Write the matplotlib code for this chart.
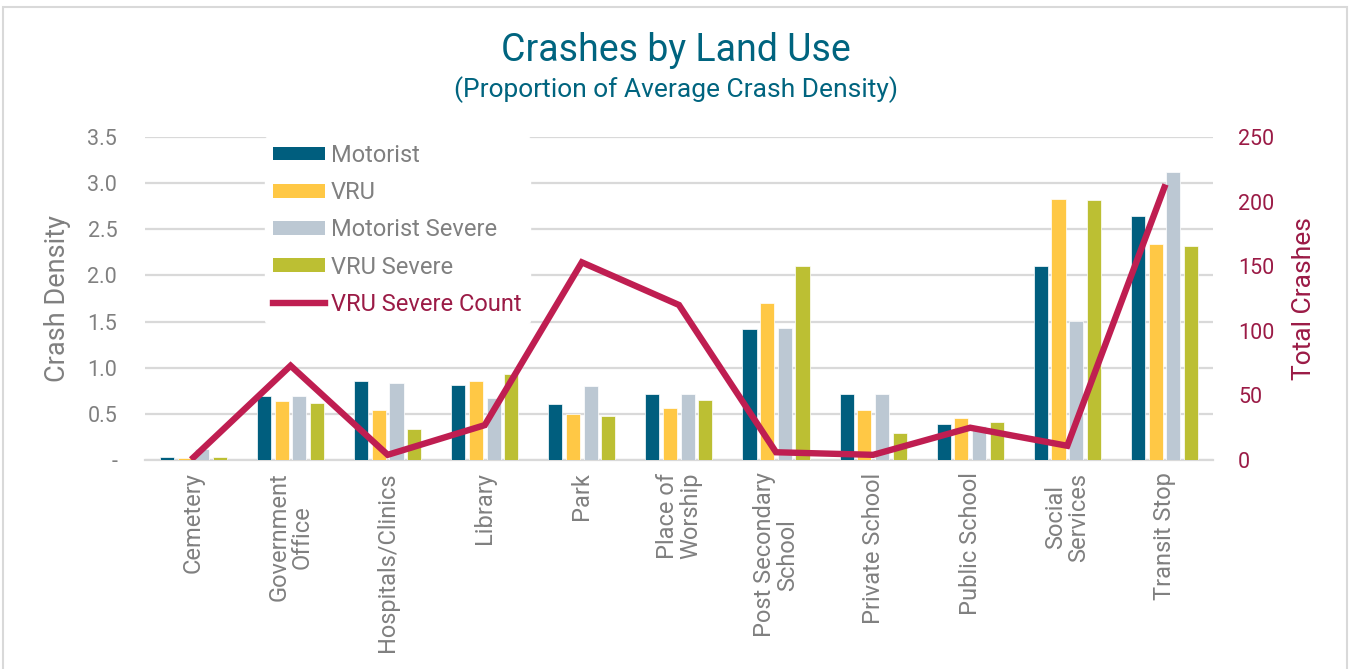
import numpy as np
import matplotlib
matplotlib.use("Agg")
import matplotlib.pyplot as plt
from matplotlib.patches import Rectangle
from matplotlib.lines import Line2D
from matplotlib.ticker import FuncFormatter

plt.rcParams["font.family"] = ["Roboto", "DejaVu Sans"]

# data
categories = [
    "Cemetery", "Government\nOffice", "Hospitals/Clinics", "Library", "Park",
    "Place of\nWorship", "Post Secondary\nSchool", "Private School",
    "Public School", "Social\nServices", "Transit Stop",
]
motorist = [0.03, 0.69, 0.86, 0.81, 0.61, 0.71, 1.42, 0.72, 0.39, 2.10, 2.64]
vru = [0.02, 0.64, 0.54, 0.86, 0.50, 0.56, 1.70, 0.54, 0.46, 2.83, 2.34]
motorist_severe = [0.12, 0.69, 0.83, 0.67, 0.80, 0.72, 1.43, 0.72, 0.37, 1.51, 3.12]
vru_severe = [0.03, 0.62, 0.34, 0.93, 0.48, 0.65, 2.10, 0.29, 0.41, 2.82, 2.32]
vru_severe_count = [2, 73, 4, 27, 153, 120, 6, 4, 25, 11, 211]

series = [
    ("Motorist", motorist, "#005E7E"),
    ("VRU", vru, "#FFC845"),
    ("Motorist Severe", motorist_severe, "#BCC8D3"),
    ("VRU Severe", vru_severe, "#BCBF33"),
]
line_color = "#BF1E51"
dark_red = "#9B1B46"
grey = "#808080"

fig = plt.figure(figsize=(13.51, 6.69), dpi=100)
ax = fig.add_axes([0.1073, 0.3124, 0.7905, 0.4828])
ax2 = ax.twinx()

x = np.arange(len(categories))
pitch = 0.182
width = 0.145
for i, (name, vals, color) in enumerate(series):
    ax.bar(x + (i - 1.5) * pitch, vals, width, color=color,
           edgecolor="white", linewidth=0.5, zorder=3)

ax2.plot(x, vru_severe_count, color=line_color, lw=4.6,
         solid_joinstyle="miter", zorder=4)

ax.set_xlim(-0.5, len(categories) - 0.5)
ax.set_ylim(0, 3.5)
ax.set_yticks(np.arange(0, 3.51, 0.5))
ax.yaxis.set_major_formatter(FuncFormatter(lambda v, p: "-" if v == 0 else f"{v:.1f}"))
ax2.set_ylim(0, 250)
ax2.set_yticks(np.arange(0, 251, 50))

ax.grid(axis="y", color="#D9D9D9", lw=1.6, zorder=0)
ax.set_axisbelow(True)
for a in (ax, ax2):
    for s in a.spines.values():
        s.set_visible(False)
ax.spines["bottom"].set_visible(True)
ax.spines["bottom"].set_color("#D9D9D9")
ax.spines["bottom"].set_linewidth(1.6)

ax.tick_params(axis="y", length=0, pad=20, labelsize=15.5, labelcolor=grey)
ax2.tick_params(axis="y", length=0, pad=18, labelsize=15.5, labelcolor=dark_red)
ax.set_xticks(x)
ax.set_xticklabels(categories, rotation=90, ha="center", va="top",
                   multialignment="center", fontsize=17, color=grey,
                   linespacing=1.0)
ax.tick_params(axis="x", length=0, pad=9)

ax.set_ylabel("Crash Density", fontsize=19.5, color=grey, labelpad=12)
ax2.set_ylabel("Total Crashes", fontsize=19, color=dark_red, labelpad=13)

fig.text(0.5, 0.924, "Crashes by Land Use", ha="center", va="center",
         fontsize=27, color="#00647F")
fig.text(0.5, 0.866, "(Proportion of Average Crash Density)", ha="center",
         va="center", fontsize=19, color="#00647F")

handles = [Rectangle((0, 0), 1, 1, facecolor=c) for _, _, c in series]
handles.append(Line2D([0], [0], color=line_color, lw=4.6))
labels = [n for n, _, _ in series] + ["VRU Severe Count"]
leg = ax2.legend(handles, labels, loc="upper left",
                 fontsize=17, frameon=True, facecolor="white", edgecolor="white",
                 framealpha=1, handlelength=2.2, handleheight=0.5,
                 handletextpad=0.25, labelspacing=0.6, borderpad=0.35,
                 borderaxespad=0)
leg.set_bbox_to_anchor((0.196, 0.797), transform=fig.transFigure)
for t in leg.get_texts():
    t.set_color(grey)
leg.get_texts()[-1].set_color(dark_red)
leg.set_zorder(10)

fig.add_artist(Rectangle((3 / 1351, -0.05), 1344 / 1351, 1.05 - 7 / 669,
                         transform=fig.transFigure, fill=False,
                         edgecolor="#D9D9D9", lw=1.5))

fig.savefig("out.png", dpi=100, facecolor="white")
